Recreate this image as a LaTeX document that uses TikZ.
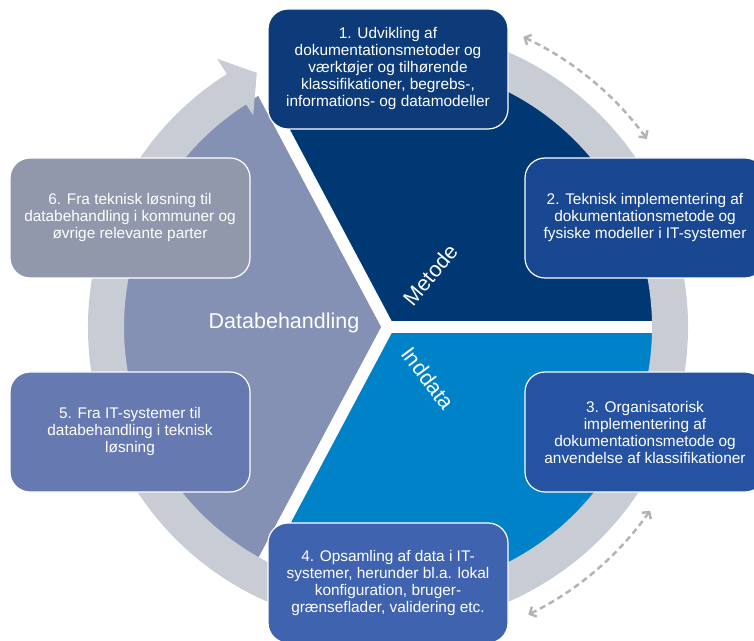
\documentclass[tikz,border=0pt]{standalone}
\usepackage{fontspec}
\setmainfont{Liberation Sans}
\usetikzlibrary{arrows.meta}

\definecolor{metodeblue}{HTML}{003873}
\definecolor{inddatablue}{HTML}{0082C8}
\definecolor{behandlinggrey}{HTML}{8491B4}
\definecolor{ringgrey}{HTML}{C8CCD4}
\definecolor{arrowgrey}{HTML}{B4B4B4}
\definecolor{boxone}{HTML}{0D3B79}
\definecolor{boxtwo}{HTML}{1A4792}
\definecolor{boxthree}{HTML}{2553A2}
\definecolor{boxfour}{HTML}{4063B0}
\definecolor{boxfive}{HTML}{6679B0}
\definecolor{boxsix}{HTML}{9198AB}

\begin{document}
\begin{tikzpicture}[x=1pt, y=1pt,
  stepbox/.style={draw=white, line width=1.2pt, rounded corners=20pt, minimum width=240pt, minimum height=120pt, inner sep=0pt, align=center, text=white, font=\fontsize{15.4}{17}\selectfont},
  seglabel/.style={text=white, font=\fontsize{21.5}{24}\selectfont},
  gap/.style={white, line width=12pt},
  dasharrow/.style={draw=arrowgrey, line width=2.5pt, dash pattern=on 6pt off 4pt, {Straight Barb[length=5pt,width=11pt]}-{Straight Barb[length=5pt,width=11pt]}}]
\clip (0,0) rectangle (754,640);

\begin{scope}[shift={(388,313)}]
% pie
\fill[metodeblue] (0,0) -- (0:265) arc[start angle=0, end angle=118, radius=265] -- cycle;
\fill[behandlinggrey] (0,0) -- (118:265) arc[start angle=118, end angle=242, radius=265] -- cycle;
\fill[inddatablue] (0,0) -- (242:265) arc[start angle=242, end angle=360, radius=265] -- cycle;
\foreach \a in {0,118,242}
  \draw[gap] (0,0) -- (\a:266);

% ring with arrow head
\fill[ringgrey] (122.5:300) arc[start angle=122.5, end angle=460, radius=300]
  -- (460:264) arc[start angle=460, end angle=122.5, radius=264]
  -- (122.5:251) -- (117.3:286) -- (122.5:318) -- cycle;

\node[seglabel, rotate=50] (metode) at (51:67) {Metode};
\node[seglabel, rotate=-53] (inddata) at (-52:65) {Inddata};
\node[seglabel] (databeh) at (-104,4) {Databehandling};

\coordinate (dashA) at (65:320);
\coordinate (dashB) at (-35:320);
\draw[dasharrow] (dashA) arc[start angle=65, end angle=36, radius=320];
\draw[dasharrow] (dashB) arc[start angle=-35, end angle=-64, radius=320];
\end{scope}

\node[stepbox, fill=boxone] (step1) at (388,571) {1. Udvikling af\\dokumentationsmetoder og\\værktøjer og tilhørende\\klassifikationer, begrebs-,\\informations- og datamodeller};
\node[stepbox, fill=boxtwo] (step2) at (645,422) {2. Teknisk implementering af\\dokumentationsmetode og\\fysiske modeller i IT-systemer};
\node[stepbox, fill=boxthree] (step3) at (645,208) {3. Organisatorisk\\implementering af\\dokumentationsmetode og\\anvendelse af klassifikationer};
\node[stepbox, fill=boxfour] (step4) at (388,57) {4. Opsamling af data i IT-\\systemer, herunder bl.a. lokal\\konfiguration, bruger-\\grænseflader, validering etc.};
\node[stepbox, fill=boxfive] (step5) at (130,208) {5. Fra IT-systemer til\\databehandling i teknisk\\løsning};
\node[stepbox, fill=boxsix] (step6) at (130,422) {6. Fra teknisk løsning til\\databehandling i kommuner og\\øvrige relevante parter};
\end{tikzpicture}
\end{document}
